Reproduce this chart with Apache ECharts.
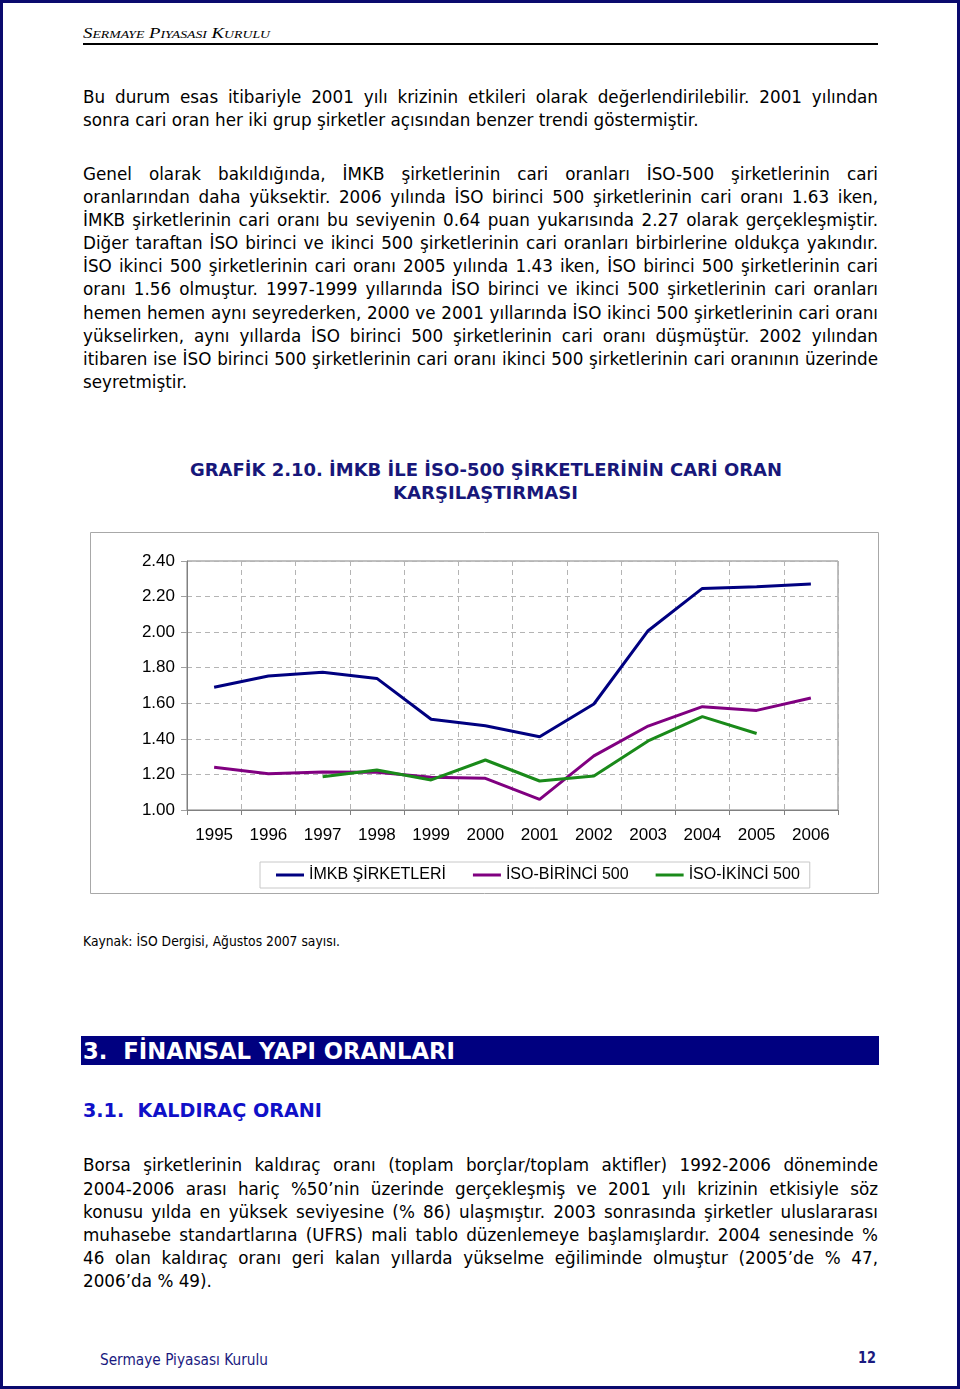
<!DOCTYPE html>
<html>
<head>
<meta charset="utf-8">
<script src="https://cdn.jsdelivr.net/npm/echarts@6/dist/echarts.min.js"></script>
<style>
html,body{margin:0;padding:0;background:#fff;}
#page{position:relative;width:960px;height:1389px;overflow:hidden;background:#fff;}
#frame{position:absolute;left:0;top:0;width:960px;height:1389px;box-sizing:border-box;border:3px solid #0a0a6e;pointer-events:none;}
.abs{position:absolute;white-space:nowrap;transform-origin:0 50%;}
.fit{display:inline-block;}
.body{font-family:"DejaVu Sans",Verdana,sans-serif;font-size:18px;color:#000;}
.para{position:absolute;left:83px;transform-origin:0 0;}
.ln{height:23.2px;line-height:23.2px;white-space:nowrap;}
.ln.j{text-align:justify;text-align-last:justify;}
.ln span{white-space:nowrap;}
#chart{position:absolute;left:90px;top:532px;width:789px;height:362px;}
</style>
</head>
<body>
<div id="page">
  <div class="abs fit" data-w="187" style="left:83px;top:24px;line-height:18px;font-family:'Liberation Serif',serif;font-style:italic;font-variant:small-caps;font-size:15px;color:#000;">Sermaye Piyasası Kurulu</div>
  <div style="position:absolute;left:83px;top:43px;width:795px;height:2px;background:#000;"></div>

  <div class="para body" id="p1" style="top:84.5px;">
    <div class="ln j"><span>Bu durum esas itibariyle 2001 yılı krizinin etkileri olarak değerlendirilebilir. 2001 yılından</span></div>
    <div class="ln"><span>sonra cari oran her iki grup şirketler açısından benzer trendi göstermiştir.</span></div>
  </div>

  <div class="para body" id="p2" style="top:161.5px;">
    <div class="ln j"><span>Genel olarak bakıldığında, İMKB şirketlerinin cari oranları İSO-500 şirketlerinin cari</span></div>
    <div class="ln j"><span>oranlarından daha yüksektir. 2006 yılında İSO birinci 500 şirketlerinin cari oranı 1.63 iken,</span></div>
    <div class="ln j"><span>İMKB şirketlerinin cari oranı bu seviyenin 0.64 puan yukarısında 2.27 olarak gerçekleşmiştir.</span></div>
    <div class="ln j"><span>Diğer taraftan İSO birinci ve ikinci 500 şirketlerinin cari oranları birbirlerine oldukça yakındır.</span></div>
    <div class="ln j"><span>İSO ikinci 500 şirketlerinin cari oranı 2005 yılında 1.43 iken, İSO birinci 500 şirketlerinin cari</span></div>
    <div class="ln j"><span>oranı 1.56 olmuştur. 1997-1999 yıllarında İSO birinci ve ikinci 500 şirketlerinin cari oranları</span></div>
    <div class="ln j"><span>hemen hemen aynı seyrederken, 2000 ve 2001 yıllarında İSO ikinci 500 şirketlerinin cari oranı</span></div>
    <div class="ln j"><span>yükselirken, aynı yıllarda İSO birinci 500 şirketlerinin cari oranı düşmüştür. 2002 yılından</span></div>
    <div class="ln j"><span>itibaren ise İSO birinci 500 şirketlerinin cari oranı ikinci 500 şirketlerinin cari oranının üzerinde</span></div>
    <div class="ln"><span>seyretmiştir.</span></div>
  </div>

  <div class="abs fit" data-w="592" style="left:190px;top:459px;line-height:22px;font-family:'DejaVu Sans',sans-serif;font-weight:bold;font-size:18px;color:#17177a;">GRAFİK 2.10. İMKB İLE İSO-500 ŞİRKETLERİNİN CARİ ORAN</div>
  <div class="abs fit" data-w="185" style="left:393px;top:482px;line-height:22px;font-family:'DejaVu Sans',sans-serif;font-weight:bold;font-size:18px;color:#17177a;">KARŞILAŞTIRMASI</div>

  <div id="chart"></div>

  <div class="abs fit" data-w="257" style="left:83px;top:932px;line-height:18px;font-family:'DejaVu Sans',sans-serif;font-size:14px;color:#000;">Kaynak: İSO Dergisi, Ağustos 2007 sayısı.</div>

  <div style="position:absolute;left:81px;top:1036px;width:798px;height:29px;background:#000080;"></div>
  <div class="abs fit" data-w="372" style="left:83px;top:1037px;line-height:28px;font-family:'DejaVu Sans',sans-serif;font-weight:bold;font-size:23px;color:#fff;">3.&nbsp;&nbsp;FİNANSAL YAPI ORANLARI</div>

  <div class="abs fit" data-w="239" style="left:83px;top:1098px;line-height:24px;font-family:'DejaVu Sans',sans-serif;font-weight:bold;font-size:19px;color:#1010c8;">3.1.&nbsp;&nbsp;KALDIRAÇ ORANI</div>

  <div class="para body" id="p3" style="top:1153.4px;">
    <div class="ln j"><span>Borsa şirketlerinin kaldıraç oranı (toplam borçlar/toplam aktifler) 1992-2006 döneminde</span></div>
    <div class="ln j"><span>2004-2006 arası hariç %50’nin üzerinde gerçekleşmiş ve 2001 yılı krizinin etkisiyle söz</span></div>
    <div class="ln j"><span>konusu yılda en yüksek seviyesine (% 86) ulaşmıştır. 2003 sonrasında şirketler uluslararası</span></div>
    <div class="ln j"><span>muhasebe standartlarına (UFRS) mali tablo düzenlemeye başlamışlardır. 2004 senesinde %</span></div>
    <div class="ln j"><span>46 olan kaldıraç oranı geri kalan yıllarda yükselme eğiliminde olmuştur (2005’de % 47,</span></div>
    <div class="ln"><span>2006’da % 49).</span></div>
  </div>

  <div class="abs fit" data-w="168" style="left:100px;top:1350px;line-height:20px;font-family:'DejaVu Sans',sans-serif;font-size:16px;color:#1a1a80;">Sermaye Piyasası Kurulu</div>
  <div class="abs fit" data-w="18" style="left:858px;top:1348px;line-height:20px;font-family:'DejaVu Sans',sans-serif;font-weight:bold;font-size:16px;color:#1a1a80;">12</div>

  <div id="frame"></div>
</div>

<script>
// ---- chart data ----
const years = ['1995','1996','1997','1998','1999','2000','2001','2002','2003','2004','2005','2006'];
const imkbSirketleri = [1.69, 1.753, 1.774, 1.74, 1.51, 1.474, 1.412, 1.596, 2.008, 2.246, 2.255, 2.27];
const isoBirinci500 = [1.24, 1.204, 1.214, 1.212, 1.184, 1.178, 1.06, 1.304, 1.472, 1.581, 1.56, 1.63];
const isoIkinci500 = [null, null, 1.187, 1.225, 1.169, 1.281, 1.163, 1.191, 1.388, 1.525, 1.43, null];
const seriesNames = ['İMKB ŞİRKETLERİ', 'İSO-BİRİNCİ 500', 'İSO-İKİNCİ 500'];
const yMin = 1.0, yMax = 2.4, yStep = 0.2;

const FONT = '"Liberation Sans", Arial, sans-serif';
const chart = echarts.init(document.getElementById('chart'), null, {renderer: 'canvas'});
const dash = {color: '#b4b4b4', type: [5, 4], width: 1};
chart.setOption({
  animation: false,
  graphic: [{type: 'rect', shape: {x: 0.5, y: 0.5, width: 788, height: 361}, style: {fill: 'none', stroke: '#a8a8a8', lineWidth: 1}, silent: true}],
  grid: {left: 97, top: 29, width: 651, height: 249, show: true, borderColor: '#808080', borderWidth: 1, containLabel: false},
  legend: {
    data: seriesNames, left: 170, top: 330, icon: 'rect', itemWidth: 28, itemHeight: 3, itemGap: 27,
    padding: [5, 10, 5, 16], borderColor: '#c8c8c8', borderWidth: 1,
    textStyle: {fontFamily: FONT, fontSize: 16, color: '#000', lineHeight: 16}
  },
  xAxis: {
    type: 'category', data: years, boundaryGap: true,
    axisLine: {lineStyle: {color: '#808080', width: 1}},
    axisTick: {show: true, length: 5, lineStyle: {color: '#808080'}},
    axisLabel: {fontFamily: FONT, fontSize: 17, color: '#000', margin: 17, interval: 0},
    splitLine: {show: true, lineStyle: dash}
  },
  yAxis: {
    type: 'value', min: yMin, max: yMax, interval: yStep,
    axisLine: {show: true, lineStyle: {color: '#808080', width: 1}},
    axisTick: {show: true, length: 6, lineStyle: {color: '#a0a0a0'}},
    axisLabel: {fontFamily: FONT, fontSize: 17, color: '#000', margin: 12, formatter: v => v.toFixed(2)},
    splitLine: {show: true, lineStyle: dash}
  },
  series: [
    {name: seriesNames[0], type: 'line', data: imkbSirketleri, symbol: 'none', color: '#000080', lineStyle: {width: 3, color: '#000080'}},
    {name: seriesNames[1], type: 'line', data: isoBirinci500, symbol: 'none', color: '#800080', lineStyle: {width: 3, color: '#800080'}},
    {name: seriesNames[2], type: 'line', data: isoIkinci500, symbol: 'none', color: '#1a8a1a', lineStyle: {width: 3, color: '#1a8a1a'}, connectNulls: false}
  ]
});

// ---- text fitting ----
function fitAll(){
  document.querySelectorAll('.fit').forEach(el => {
    const w = el.getBoundingClientRect().width;
    const target = parseFloat(el.dataset.w);
    if (w > 0) el.style.transform = 'scaleX(' + (target / w) + ')';
  });
  let maxW = 0;
  document.querySelectorAll('.para .ln.j span').forEach(sp => {
    maxW = Math.max(maxW, sp.getBoundingClientRect().width);
  });
  const s = 795 / (maxW + 4);
  document.querySelectorAll('.para').forEach(p => {
    p.style.width = (795 / s) + 'px';
    p.style.transform = 'scaleX(' + s + ')';
  });
  document.querySelectorAll('.para .ln span').forEach(sp => {
    sp.parentNode.textContent = sp.textContent;
  });
}
if (document.fonts && document.fonts.ready) { document.fonts.ready.then(fitAll); } else { fitAll(); }
</script>
</body>
</html>
